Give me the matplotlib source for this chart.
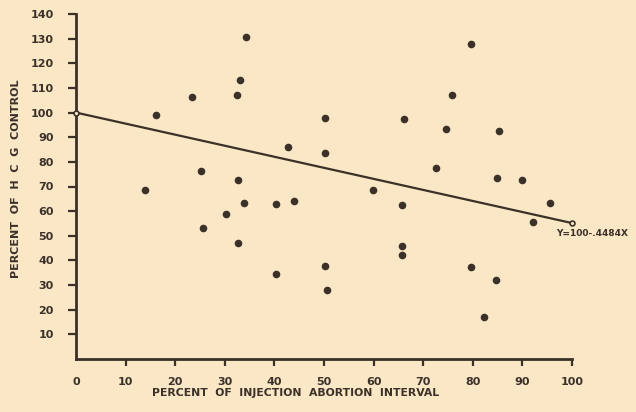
import matplotlib
matplotlib.use("Agg")
import matplotlib.pyplot as plt

# percent of injection-abortion interval vs percent of HCG control
pct_interval = [14.0, 16.2, 23.4, 25.3, 25.6, 30.3, 32.5, 33.1, 34.2, 32.6,
                33.9, 32.6, 40.4, 40.4, 42.7, 43.9, 50.2, 50.3, 50.2, 50.6,
                59.9, 65.7, 65.7, 65.7, 66.2, 72.6, 74.6, 75.9, 79.6, 79.7,
                82.3, 84.7, 84.8, 85.3, 90.0, 92.1, 95.6]
pct_hcg = [68.5, 98.9, 106.2, 76.3, 53.3, 58.8, 107.3, 113.2, 130.6, 72.5,
           63.5, 46.9, 63.1, 34.6, 86.0, 64.0, 97.6, 83.5, 37.7, 27.9,
           68.5, 62.4, 45.8, 42.4, 97.3, 77.7, 93.5, 107.1, 127.8, 37.4,
           16.9, 32.2, 73.3, 92.5, 72.8, 55.4, 63.5]

intercept = 100
slope = -0.4484
fit_x = [0, 100]
fit_y = [intercept + slope * v for v in fit_x]

xticks = [0, 10, 20, 30, 40, 50, 60, 70, 80, 90, 100]
yticks = [10, 20, 30, 40, 50, 60, 70, 80, 90, 100, 110, 120, 130, 140]

bg = "#f9e7c6"
ink = "#3b3129"

fig = plt.figure(figsize=(6.36, 4.12), dpi=100, facecolor=bg)
ax = fig.add_axes([76 / 636, 1 - 359 / 412, 496 / 636, 345 / 412])
ax.set_facecolor(bg)

ax.plot(fit_x, fit_y, color=ink, lw=1.6, marker="o", ms=3.5,
        mfc=bg, mec=ink, mew=1.2, clip_on=False, zorder=3)
ax.scatter(pct_interval, pct_hcg, s=20, color=ink, zorder=4, clip_on=False)

ax.text(96.8, 51.0, "Y=100-.4484X", fontsize=6.5, fontweight="bold",
        color=ink, ha="left", va="center", clip_on=False)

ax.set_xlim(0, 100)
ax.set_ylim(0, 140)
ax.set_xticks(xticks)
ax.set_yticks(yticks)
ax.set_xticklabels([str(t) for t in xticks], fontsize=8, fontweight="bold", color=ink)
ax.set_yticklabels([str(t) for t in yticks], fontsize=8, fontweight="bold", color=ink)
ax.tick_params(axis="x", direction="out", length=5, width=1.6, pad=8, colors=ink)
ax.tick_params(axis="y", direction="out", length=6, width=1.6, pad=10, colors=ink)
ax.xaxis.get_major_ticks()[0].tick1line.set_visible(False)

for side in ["top", "right"]:
    ax.spines[side].set_visible(False)
for side in ["left", "bottom"]:
    ax.spines[side].set_linewidth(2)
    ax.spines[side].set_color(ink)

fig.text(296 / 636, 1 - 393 / 412, "PERCENT  OF  INJECTION  ABORTION  INTERVAL",
         fontsize=7.8, fontweight="bold", color=ink, ha="center", va="center")
fig.text(16 / 636, 1 - 179 / 412, "PERCENT  OF  H  C  G  CONTROL",
         fontsize=8, fontweight="bold", color=ink, ha="center", va="center",
         rotation=90)

fig.savefig("out.png", dpi=100, facecolor=bg)
